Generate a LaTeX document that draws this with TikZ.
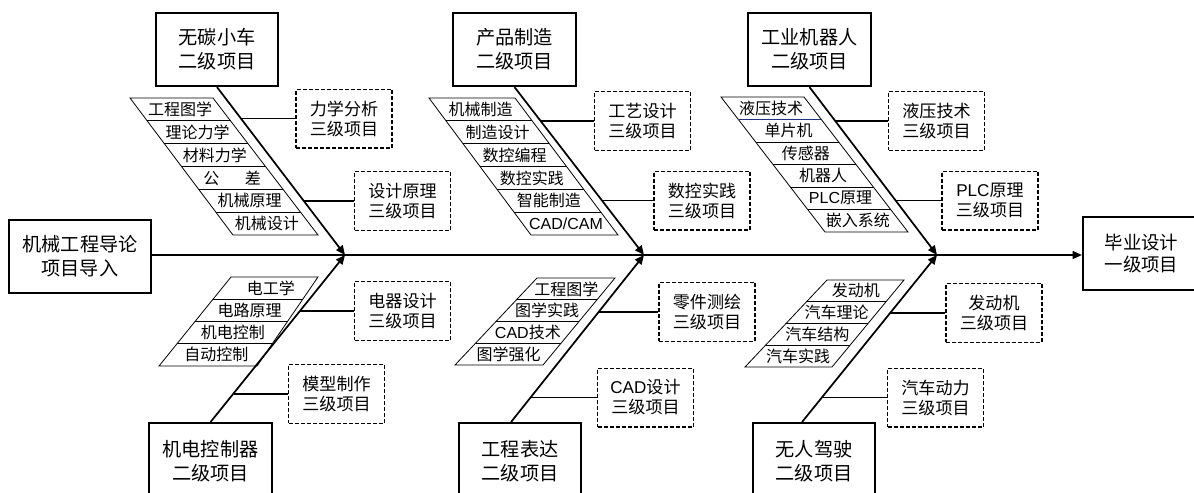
\documentclass[tikz,border=0pt]{standalone}
\usepackage{fontspec}
\setmainfont{Noto Sans CJK SC}
\newfontfamily\lat{Liberation Sans}
\usetikzlibrary{arrows.meta,calc}

\tikzset{
  bigbox/.style={draw, line width=1.4pt, minimum width=92pt, minimum height=55pt,
    align=center, font=\fontsize{14.4}{18}\selectfont, inner sep=0pt},
  subbox/.style={draw, dash pattern=on 3pt off 1.5pt, line width=1pt,
    minimum width=72pt, minimum height=44pt, align=center,
    font=\fontsize{12.8}{15}\selectfont, inner sep=0pt},
  diag/.style={line width=1.3pt, -{Triangle[length=7pt,width=6pt]}},
  link/.style={line width=1.2pt},
  rowline/.style={line width=0.6pt},
  rowtext/.style={font=\fontsize{12}{14}\selectfont, inner sep=0pt},
}

\newcommand\fishrows[6]{%
  \draw[rowline] (#1) -- (#2) -- (#4) -- (#3) -- cycle;
  \foreach \txt [count=\i] in {#6} {%
    \pgfmathsetmacro\ta{(\i-1)/#5}%
    \pgfmathsetmacro\pa{(1-(\i-0.5)/#5)/2}%
    \pgfmathsetmacro\pb{((\i-0.5)/#5)/2}%
    \ifnum\i>1 \draw[rowline] ($(#1)!\ta!(#3)$) -- ($(#2)!\ta!(#4)$);\fi
    \node[rowtext] at ($\pa*(#1)+\pb*(#3)+\pa*(#2)+\pb*(#4)$) {\txt};
  }%
}

\begin{document}
\begin{tikzpicture}[x=0.75pt,y=-0.75pt]
\useasboundingbox (0,0) rectangle (1194,492);
\clip (0,0) rectangle (1194,492);

% main boxes
\node[bigbox] (B1) at (217,49.5) {无碳小车\\二级项目};
\node[bigbox] (B2) at (514.5,49.5) {产品制造\\二级项目};
\node[bigbox] (B3) at (809.5,49.5) {工业机器人\\二级项目};
\node[bigbox, minimum height=57pt] (B4) at (210.5,461) {机电控制器\\二级项目};
\node[bigbox, minimum height=57pt] (B5) at (520,461) {工程表达\\二级项目};
\node[bigbox, minimum height=57pt] (B6) at (814,461) {无人驾驶\\二级项目};
\node[bigbox, minimum width=106.5pt] (L) at (80,256.5) {机械工程导论\\项目导入};
\node[bigbox, minimum width=88pt, font=\fontsize{13.8}{17}\selectfont] (R) at (1141.5,253.5) {毕业设计\\一级项目};

% junctions
\coordinate (j1) at (345,255);
\coordinate (j2) at (644,255);
\coordinate (j3) at (937,255);
\coordinate (b5) at ($(B5.north)+(-9,0)$);
\coordinate (b6) at ($(B6.north)+(-12,0)$);

% spine
\draw[link, -{Triangle[length=7pt,width=6pt]}] (L.east |- j1) -- (R.west |- j1);

% diagonals
\draw[diag] (B1.south) -- (j1);
\draw[diag] (B2.south) -- (j2);
\draw[diag] (B3.south) -- (j3);
\draw[diag] (B4.north) -- (j1);
\draw[diag] (b5) -- (j2);
\draw[diag] (b6) -- (j3);

% third-level boxes
\node[subbox] (T1) at (344,118.5) {力学分析\\三级项目};
\node[subbox] (T2) at (402.5,201) {设计原理\\三级项目};
\node[subbox] (T3) at (642.5,121) {工艺设计\\三级项目};
\node[subbox] (T4) at (702,200.5) {数控实践\\三级项目};
\node[subbox] (T5) at (936.5,121) {液压技术\\三级项目};
\node[subbox] (T6) at (990,200.5) {{\lat PLC}原理\\三级项目};
\node[subbox] (T7) at (402.5,311) {电器设计\\三级项目};
\node[subbox] (T8) at (336.5,394) {模型制作\\三级项目};
\node[subbox] (T9) at (707,312) {零件测绘\\三级项目};
\node[subbox] (T10) at (645.5,397.5) {{\lat CAD}设计\\三级项目};
\node[subbox] (T11) at (994,313) {发动机\\三级项目};
\node[subbox] (T12) at (935.5,397.5) {汽车动力\\三级项目};

% attachment points on diagonals
\coordinate (c1) at ($(B1.south)!0.192!(j1)$);
\coordinate (c2) at ($(B1.south)!0.680!(j1)$);
\coordinate (c3) at ($(B2.south)!0.206!(j2)$);
\coordinate (c4) at ($(B2.south)!0.677!(j2)$);
\coordinate (c5) at ($(B3.south)!0.206!(j3)$);
\coordinate (c6) at ($(B3.south)!0.677!(j3)$);
\coordinate (c7) at ($(B4.north)!0.667!(j1)$);
\coordinate (c8) at ($(B4.north)!0.173!(j1)$);
\coordinate (c9) at ($(b5)!0.661!(j2)$);
\coordinate (c10) at ($(b5)!0.152!(j2)$);
\coordinate (c11) at ($(b6)!0.655!(j3)$);
\coordinate (c12) at ($(b6)!0.152!(j3)$);

\foreach \k in {1,...,12} {
  \draw[link] (c\k |- T\k.west) -- (T\k.west);
}

% course lists
\fishrows{130,98}{213,98}{233,235}{318,235}{6}{工程图学,理论力学,材料力学,公\hspace{19pt}差,机械原理,机械设计}
\fishrows{429,98}{515,98}{531,235}{618,235}{6}{机械制造,制造设计,数控编程,数控实践,智能制造,{\lat CAD/CAM}}
\fishrows{721,97}{804,97}{825,232}{908,232}{6}{液压技术,单片机\hspace{9pt},传感器\hspace{9pt},机器人\hspace{9pt},{\lat PLC}原理,嵌入系统}
\draw[rowline, draw={rgb,255:red,30;green,50;blue,130}] ($(721,97)!0.16667!(825,232)$) -- ($(804,97)!0.16667!(908,232)$);
\fishrows{231,277}{318,277}{159,366}{257,366}{4}{\hspace{7pt}电工学,电路原理,机电控制,自动控制\hspace{8pt}}
\fishrows{537,278}{615,278}{455,365}{543,365}{4}{工程图学,图学实践,{\lat CAD}技术,图学强化}
\fishrows{827,280}{904,280}{745,367}{832,367}{4}{发动机,汽车理论,汽车结构,汽车实践}
\end{tikzpicture}
\end{document}
